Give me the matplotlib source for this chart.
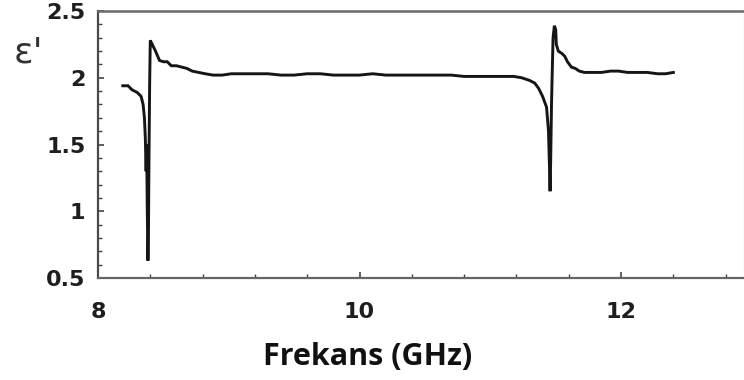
import matplotlib
matplotlib.use("Agg")
import matplotlib.pyplot as plt
from matplotlib.ticker import MultipleLocator, FixedLocator

# real permittivity vs frequency
freq_ghz = [
    8.19, 8.23, 8.26, 8.30, 8.33, 8.345, 8.355, 8.362, 8.368, 8.372, 8.377,
    8.382, 8.386, 8.39, 8.395, 8.40, 8.41, 8.44, 8.47, 8.50, 8.53, 8.56,
    8.60, 8.64, 8.68, 8.72, 8.77, 8.82, 8.88, 8.95, 9.02, 9.10, 9.20, 9.30,
    9.40, 9.50, 9.60, 9.70, 9.80, 9.90, 10.0, 10.1, 10.2, 10.3, 10.4, 10.5,
    10.6, 10.7, 10.8, 10.9, 11.0, 11.1, 11.18, 11.24, 11.30, 11.34, 11.37,
    11.40, 11.43, 11.445, 11.452, 11.457, 11.462, 11.468, 11.475, 11.48,
    11.49, 11.50, 11.505, 11.52, 11.55, 11.57, 11.59, 11.62, 11.65, 11.68,
    11.72, 11.78, 11.85, 11.92, 11.98, 12.05, 12.12, 12.20, 12.28, 12.34,
    12.40,
]
eps_real = [
    1.94, 1.94, 1.91, 1.89, 1.86, 1.80, 1.70, 1.55, 1.30, 1.50, 1.00,
    0.63, 0.85, 1.40, 1.95, 2.28, 2.26, 2.20, 2.13, 2.12, 2.12, 2.09,
    2.09, 2.08, 2.07, 2.05, 2.04, 2.03, 2.02, 2.02, 2.03, 2.03, 2.03, 2.03,
    2.02, 2.02, 2.03, 2.03, 2.02, 2.02, 2.02, 2.03, 2.02, 2.02, 2.02, 2.02,
    2.02, 2.02, 2.01, 2.01, 2.01, 2.01, 2.01, 2.00, 1.98, 1.96, 1.92,
    1.86, 1.78, 1.60, 1.35, 1.15, 1.40, 1.80, 2.10, 2.30,
    2.39, 2.36, 2.25, 2.20, 2.18, 2.16, 2.12, 2.08, 2.07, 2.05,
    2.04, 2.04, 2.04, 2.05, 2.05, 2.04, 2.04, 2.04, 2.03, 2.03,
    2.04,
]
x_labeled = [8, 10, 12]
y_labeled = [0.5, 1, 1.5, 2, 2.5]

fig = plt.figure(figsize=(7.44, 3.80), dpi=100)
ax = fig.add_axes([0.1317, 0.2684, 0.8683, 0.7026])

ax.plot(freq_ghz, eps_real, color="#151515", lw=2.1, solid_joinstyle="miter")

ax.set_xlim(8, 12.94)
ax.set_ylim(0.5, 2.5)

ax.xaxis.set_major_locator(FixedLocator(x_labeled))
ax.xaxis.set_minor_locator(MultipleLocator(0.4))
ax.yaxis.set_major_locator(FixedLocator(y_labeled))
ax.yaxis.set_minor_locator(MultipleLocator(0.1))
ax.set_xticklabels(["8", "10", "12"])
ax.set_yticklabels(["0.5", "1", "1.5", "2", "2.5"])

ax.tick_params(axis="both", which="both", direction="in", color="#444",
               top=False, right=False)
ax.tick_params(axis="both", which="major", length=4, width=1.2)
ax.tick_params(axis="both", which="minor", length=3, width=1.0)
ax.tick_params(axis="x", which="major", pad=17)
ax.tick_params(axis="y", which="major", pad=9)
for lbl in ax.get_xticklabels() + ax.get_yticklabels():
    lbl.set_fontfamily("DejaVu Sans")
    lbl.set_fontweight("bold")
    lbl.set_fontsize(16)
    lbl.set_color("#1e1e1e")

ax.spines["left"].set_color("#4a4a4a")
ax.spines["left"].set_linewidth(1.6)
ax.spines["bottom"].set_color("#666")
ax.spines["bottom"].set_linewidth(1.6)
ax.spines["top"].set_color("#6a6a6a")
ax.spines["top"].set_linewidth(1.8)
ax.spines["right"].set_color("#e4e4e4")
ax.spines["right"].set_linewidth(1.0)

fig.text(0.038, 0.862, "ε'", fontsize=26, family="DejaVu Sans",
         color="#333", ha="center", va="center")
fig.text(0.494, 0.06, "Frekans (GHz)", fontsize=22, family="Open Sans",
         fontweight="bold", color="#111", ha="center", va="center")

fig.savefig("out.png", dpi=100)
